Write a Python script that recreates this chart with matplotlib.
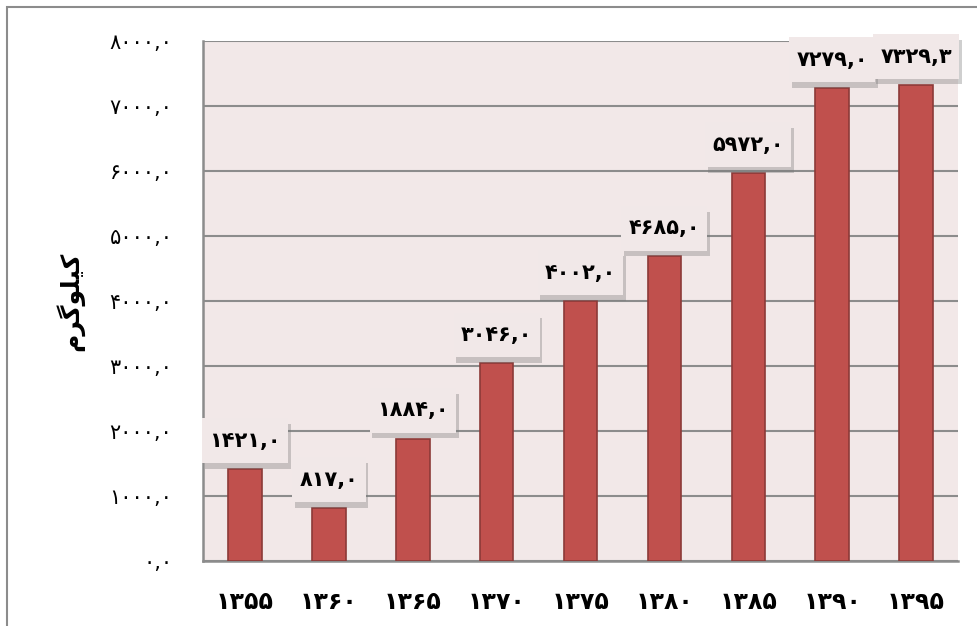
import matplotlib

matplotlib.use("Agg")
import matplotlib.pyplot as plt
import matplotlib.patheffects as pe
from matplotlib.patches import Rectangle

# data
years = ["1355", "1360", "1365", "1370", "1375", "1380", "1385", "1390", "1395"]
values = [1421.0, 817.0, 1884.0, 3046.0, 4002.0, 4685.0, 5972.0, 7279.0, 7329.3]
yticks = [0, 1000, 2000, 3000, 4000, 5000, 6000, 7000, 8000]
# "کیلوگرم" in presentation forms, visual order (matplotlib does no shaping)
ylabel = "\ufee1\ufeae\ufb94\ufeee\ufee0\ufbff\ufb90"

FA = str.maketrans("0123456789", "۰۱۲۳۴۵۶۷۸۹")


def fa(s):
    return s.translate(FA)


def fa_num(v):
    return fa(f"{v:.1f}".replace(".", ","))


BAR = "#C0504D"
BAR_EDGE = "#8C3A38"
BG = "#F2E8E8"
GRID = "#8C8C8C"

plt.rcParams["font.family"] = ["DejaVu Sans"]

fig = plt.figure(figsize=(9.77, 6.26), dpi=100)
ax = fig.add_axes([203 / 977, 65 / 626, 755 / 977, 520 / 626])
ax.set_facecolor(BG)

x = list(range(len(years)))
ax.bar(x, values, width=0.4, color=BAR, edgecolor=BAR_EDGE, linewidth=1.2, zorder=3)

ax.set_xlim(-0.5, len(years) - 0.5)
ax.set_ylim(0, 8000)
ax.set_yticks(yticks)
ax.set_yticklabels([fa_num(v) for v in yticks], fontsize=15)
ax.set_xticks(x)
ax.set_xticklabels([fa(y) for y in years], fontsize=17, fontweight="bold")
ax.tick_params(axis="both", length=0)
ax.tick_params(axis="y", pad=22)
ax.tick_params(axis="x", pad=21)

ax.yaxis.grid(True, color=GRID, linewidth=1.5, zorder=0)
ax.set_axisbelow(True)
for s in ["top", "right"]:
    ax.spines[s].set_visible(False)
for s in ["left", "bottom"]:
    ax.spines[s].set_color(GRID)
    ax.spines[s].set_linewidth(1.8)

ax.set_ylabel(ylabel, fontsize=18, fontweight="bold", labelpad=18)

# data labels with shadowed boxes
for xi, v in zip(x, values):
    t = ax.annotate(fa_num(v), (xi, v), xytext=(0, 13), textcoords="offset points",
                    ha="center", va="bottom", fontsize=15, fontweight="bold",
                    zorder=5, annotation_clip=False,
                    bbox=dict(boxstyle="square,pad=0.35", mutation_aspect=1.7,
                              fc="#F1E8E8", ec="none"))
    t.get_bbox_patch().set_path_effects([
        pe.SimplePatchShadow(offset=(2, -4), shadow_rgbFace="#777777", alpha=0.35),
        pe.Normal(),
    ])

# outer chart border
fig.patches.append(Rectangle((7 / 977, -0.1), 1.2, (626 - 7) / 626 + 0.1,
                             transform=fig.transFigure, fill=False,
                             edgecolor=GRID, linewidth=1.5))

fig.savefig("out.png", dpi=100)
